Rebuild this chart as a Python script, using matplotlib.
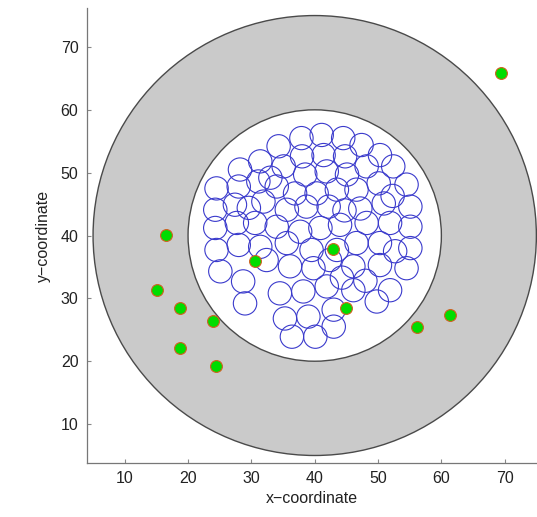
import matplotlib
matplotlib.use("Agg")
import matplotlib.pyplot as plt
from matplotlib.patches import Circle
import numpy as np

plt.rcParams['font.family'] = ['Liberation Sans', 'DejaVu Sans']

# region: annulus around the sink
center = (40.0, 40.0)
outer_r = 35.0
inner_r = 20.0

# small sensing circles (centres)
circ_x = [37.9, 41.1, 44.5,
          34.3, 47.4, 50.3, 38.0, 41.4, 44.8,
          28.2, 31.4, 35.1, 38.5, 41.9, 45.1, 48.2, 52.4, 33.0,
          24.5, 28.0, 31.1, 34.0, 36.9, 40.3, 43.5, 46.6, 50.1, 54.5, 52.3,
          24.3, 27.4, 31.9, 35.6, 38.7, 42.2, 47.2, 50.9, 55.1, 29.6, 44.7,
          24.3, 27.7, 30.6, 34.0, 37.7, 40.9, 44.0, 48.2, 51.9, 55.1,
          24.5, 28.0, 31.4, 35.6, 39.5, 43.5, 46.6, 50.3, 55.1, 52.7,
          25.1, 32.4, 36.1, 39.8, 42.4, 46.1, 50.3, 54.5, 44.3,
          28.7, 34.5, 38.2, 41.9, 46.1, 49.8, 51.9, 48.0,
          29.0, 35.3, 39.0, 43.0,
          36.4, 40.1, 43.0]
circ_y = [55.5, 56.0, 55.5,
          54.2, 54.4, 52.8, 52.6, 52.8, 52.6,
          50.5, 51.8, 51.0, 49.7, 50.2, 49.7, 51.0, 51.0, 49.2,
          47.5, 47.8, 48.6, 47.8, 46.7, 46.7, 47.3, 47.3, 48.3, 48.1, 46.3,
          44.1, 44.9, 45.4, 44.1, 44.6, 44.6, 44.3, 45.1, 44.6, 44.4, 44.0,
          41.2, 42.0, 42.0, 41.4, 40.6, 41.2, 41.7, 42.0, 42.0, 41.4,
          37.7, 38.5, 38.2, 38.8, 37.7, 37.7, 38.8, 38.8, 38.0, 37.5,
          34.3, 36.1, 35.1, 34.8, 36.1, 35.1, 35.3, 34.8, 33.3,
          32.7, 30.8, 31.1, 31.9, 31.3, 29.5, 31.3, 32.8,
          29.2, 26.8, 27.1, 28.2,
          23.9, 23.9, 25.5]
circ_r = 1.85

# green nodes
node_x = [69.4, 16.5, 15.1, 18.7, 18.8, 24.0, 24.4, 30.6, 42.9, 45.0, 56.2, 61.4]
node_y = [65.8, 40.1, 31.4, 28.4, 22.1, 26.4, 19.3, 35.9, 37.9, 28.5, 25.4, 27.3]

fig = plt.figure(figsize=(5.37, 5.17), dpi=100)
ax = fig.add_axes([0.1615, 0.1044, 0.8385, 0.8801])

ax.add_patch(Circle(center, outer_r, facecolor='#cacaca', edgecolor='#4a4a4a', lw=1.0, zorder=1))
ax.add_patch(Circle(center, inner_r, facecolor='white', edgecolor='#4a4a4a', lw=1.0, zorder=2))

for cx, cy in zip(circ_x, circ_y):
    ax.add_patch(Circle((cx, cy), circ_r, facecolor='none', edgecolor='#3a3acc', lw=0.8, zorder=3))

ax.plot(node_x, node_y, 'o', color='#00dd00', markeredgecolor='#d06020',
        markersize=8.5, markeredgewidth=0.8, zorder=4)

ax.set_xlim(4.0, 75.1)
ax.set_ylim(3.8, 76.2)
ax.set_xticks([10, 20, 30, 40, 50, 60, 70])
ax.set_yticks([10, 20, 30, 40, 50, 60, 70])
ax.tick_params(direction='in', length=3, labelsize=11.5, colors='#222222', pad=6)
ax.tick_params(axis='both', color='#888888')
for s in ['top', 'right']:
    ax.spines[s].set_visible(False)
for s in ['left', 'bottom']:
    ax.spines[s].set_color('#777777')
    ax.spines[s].set_linewidth(0.9)
ax.set_xlabel('x\u2212coordinate', fontsize=11.5, labelpad=3, color='#222222')
ax.set_ylabel('y\u2212coordinate', fontsize=11.5, labelpad=7, color='#222222')

fig.savefig('out.png', dpi=100)
